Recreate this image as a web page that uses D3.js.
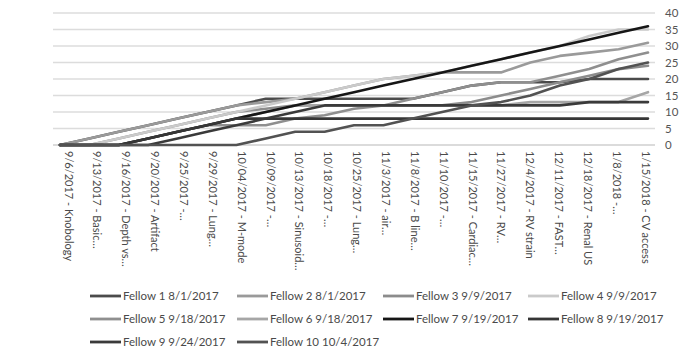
<!DOCTYPE html>
<html>
<head>
<meta charset="utf-8">
<script src="https://cdn.jsdelivr.net/npm/d3@7"></script>
<style>
  html, body { margin: 0; padding: 0; background: #ffffff; }
  svg { display: block; }
  text { font-family: Lato, "Open Sans", "Liberation Sans", sans-serif; fill: #4a4a4a; }
</style>
</head>
<body>
<svg id="chart" width="682" height="352"></svg>
<script>
// Training sessions (category axis)
const sessions = [
  "9/6/2017 - Knobology", "9/13/2017 - Basic…", "9/16/2017 - Depth vs…",
  "9/20/2017 - Artifact", "9/25/2017 -…", "9/29/2017 - Lung…",
  "10/04/2017 - M-mode", "10/09/2017 -…", "10/13/2017 - Sinusoid…",
  "10/18/2017 -…", "10/25/2017 - Lung…", "11/3/2017 - air…",
  "11/8/2017 - B line…", "11/10/2017 -…", "11/15/2017 - Cardiac…",
  "11/27/2017 - RV…", "12/4/2017 - RV strain", "12/11/2017 - FAST…",
  "12/18/2017 - Renal US", "1/8/2018 -…", "1/15/2018 - CV access"
];

// Cumulative totals per fellow
const fellow1  = [0,2,4,6,8,10,12,14,14,14,14,14,14,16,18,19,19,19,20,20,20];
const fellow2  = [0,2,4,6,8,10,12,13,14,16,18,20,21,22,22,22,25,27,28,29,31];
const fellow3  = [0,0,2,4,6,8,10,11,12,12,12,12,12,12,13,15,17,19,21,23,24];
const fellow4  = [0,0,2,4,6,8,10,12,14,16,18,20,21,22,24,26,28,30,33,35,35];
const fellow5  = [0,0,0,2,4,6,6,6,8,9,11,12,14,16,18,19,19,21,23,26,28];
const fellow6  = [0,0,0,2,4,6,8,10,12,12,12,12,12,12,12,12,13,13,13,13,16];
const fellow7  = [0,0,0,2,4,6,8,10,12,14,16,18,20,22,24,26,28,30,32,34,36];
const fellow8  = [0,0,0,2,4,6,8,8,8,8,8,8,8,8,8,8,8,8,8,8,8];
const fellow9  = [0,0,0,0,2,4,6,8,10,12,12,12,12,12,12,12,12,12,13,13,13];
const fellow10 = [0,0,0,0,0,0,0,2,4,4,6,6,8,10,12,13,15,18,20,23,25];

const seriesNames = [
  "Fellow 1 8/1/2017", "Fellow 2 8/1/2017", "Fellow 3 9/9/2017", "Fellow 4 9/9/2017",
  "Fellow 5 9/18/2017", "Fellow 6 9/18/2017", "Fellow 7 9/19/2017", "Fellow 8 9/19/2017",
  "Fellow 9 9/24/2017", "Fellow 10 10/4/2017"
];
const seriesValues = [fellow1, fellow2, fellow3, fellow4, fellow5, fellow6, fellow7, fellow8, fellow9, fellow10];
const seriesColors = ["#4b4b4b", "#9a9a9a", "#8c8c8c", "#cacaca", "#8f8f8f",
                      "#a6a6a6", "#161616", "#363636", "#3a3a3a", "#525252"];

const yTicks = [0, 5, 10, 15, 20, 25, 30, 35, 40];

const svg = d3.select("#chart");

const gridLeft = 53, gridRight = 655;
const x = d3.scalePoint().domain(d3.range(sessions.length)).range([60, 648]);
const xLabel = d3.scalePoint().domain(d3.range(sessions.length)).range([68, 645]);
const y = d3.scaleLinear().domain([0, 40]).range([145, 13]);

// horizontal gridlines
svg.append("g")
  .selectAll("line")
  .data(yTicks)
  .join("line")
  .attr("x1", gridLeft).attr("x2", gridRight)
  .attr("y1", d => y(d)).attr("y2", d => y(d))
  .attr("stroke", d => d === 0 ? "#cfcfcf" : "#dcdcdc")
  .attr("stroke-width", 1.5);

// value axis on the right
const yAxis = d3.axisRight(y).tickValues(yTicks).tickSize(0).tickPadding(0);
const gy = svg.append("g").attr("transform", "translate(665,0)").call(yAxis);
gy.select(".domain").remove();
gy.selectAll("text").attr("font-size", 11.5).style("fill", "#555").attr("x", 0);

// category labels, rotated to read downward
const xAxis = d3.axisBottom(xLabel).tickFormat(i => sessions[i]).tickSize(0);
const gx = svg.append("g").attr("transform", "translate(0,151)").call(xAxis);
gx.select(".domain").remove();
gx.selectAll("text")
  .attr("font-size", 11)
  .style("fill", "#4a4a4a")
  .attr("transform", "rotate(90)")
  .attr("x", 0).attr("y", 0).attr("dy", "0.35em")
  .attr("text-anchor", "start");

// series lines
const line = d3.line().x((d, i) => x(i)).y(d => y(d));
svg.append("g")
  .selectAll("path")
  .data(seriesValues)
  .join("path")
  .attr("d", d => line(d))
  .attr("fill", "none")
  .attr("stroke", (d, i) => seriesColors[i])
  .attr("stroke-width", 2.6)
  .attr("stroke-linejoin", "round")
  .attr("stroke-linecap", "round");

// legend
const legendCols = [90, 237, 383, 528];
const legendRows = [296, 319, 342];
const legend = svg.append("g")
  .selectAll("g")
  .data(seriesNames)
  .join("g")
  .attr("transform", (d, i) => `translate(${legendCols[i % 4]},${legendRows[Math.floor(i / 4)]})`);
legend.append("line")
  .attr("x1", 0).attr("x2", 31).attr("y1", 0).attr("y2", 0)
  .attr("stroke", (d, i) => seriesColors[i])
  .attr("stroke-width", 2.8);
legend.append("text")
  .attr("x", 33).attr("y", 0).attr("dy", "0.35em")
  .attr("font-size", 11.5)
  .style("fill", "#4a4a4a")
  .text(d => d);
</script>
</body>
</html>
